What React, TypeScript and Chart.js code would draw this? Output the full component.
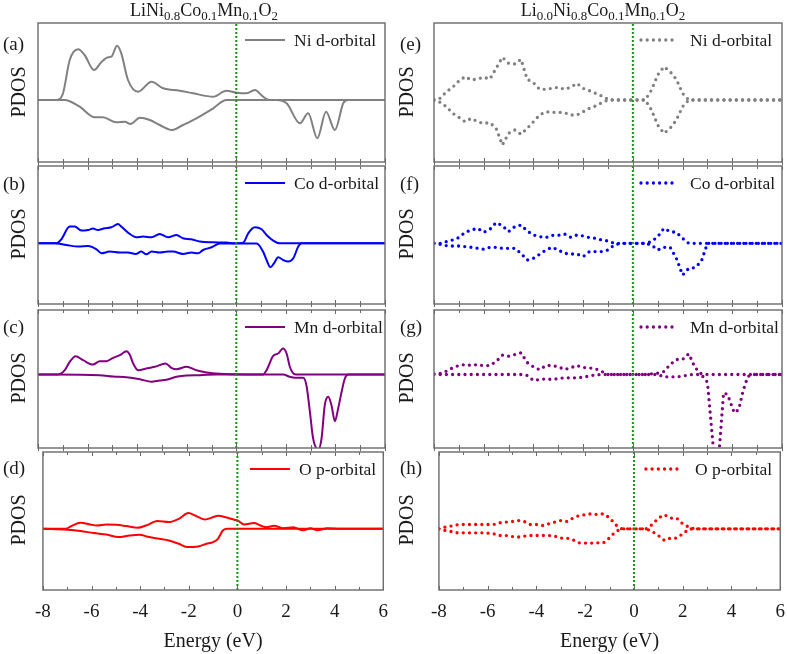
import React, { useEffect, useRef } from "react";
import { Chart, registerables } from "chart.js";

Chart.register(...registerables);

// ---------------- data ----------------
const ENERGY_MIN = -8;
const ENERGY_MAX = 6;
const ENERGY_LABEL_STEP = 2;
const ENERGY_MINOR_TICKS = [-8, -7, -6, -5, -4, -3, -2, -1, 0, 1, 2, 3, 4, 5, 6];

type Pair = [number, number];

// LiNi0.8Co0.1Mn0.1O2 (left column): [energy eV, PDOS]
const NI_UP_L: Pair[] = [[-8, 0], [-7.5, 0], [-7.19, 0.03], [-6.99, 0.67], [-6.72, 4.0], [-6.38, 5.07], [-6.12, 4.5], [-5.74, 3.0], [-5.44, 3.8], [-5.17, 4.27], [-5.04, 4.33], [-4.81, 5.43], [-4.64, 4.67], [-4.37, 2.0], [-3.96, 0.83], [-3.42, 1.83], [-2.95, 1.17], [-2.28, 0.93], [-1.74, 0.67], [-0.93, 0.33], [-0.4, 0.93], [0.01, 0.73], [0.41, 0.67], [0.75, 1.0], [1.08, 0.33], [1.35, 0], [2, 0], [4, 0], [6, 0]];
const NI_DN_L: Pair[] = [[-8, 0], [-6.92, 0], [-6.32, -0.67], [-5.71, -1.73], [-5.38, -1.73], [-4.84, -2.23], [-4.5, -2.17], [-4.27, -2.4], [-3.89, -1.77], [-3.49, -2.0], [-3.09, -2.5], [-2.59, -3.0], [-2.15, -2.5], [-1.61, -1.83], [-0.93, -0.83], [-0.4, 0], [1.62, 0], [2.03, -0.33], [2.57, -2.33], [2.9, -1.33], [3.27, -3.83], [3.62, -1.17], [3.98, -3.0], [4.32, -0.3], [4.52, 0], [6, 0]];
const CO_UP_L: Pair[] = [[-8, 0], [-7.26, 0], [-7.06, 0.4], [-6.72, 1.67], [-6.52, 1.67], [-6.25, 1.27], [-5.98, 1.33], [-5.78, 1.47], [-5.58, 1.33], [-5.31, 1.5], [-5.04, 1.6], [-4.77, 1.93], [-4.64, 1.67], [-4.37, 1.07], [-4.03, 0.6], [-3.76, 0.67], [-3.42, 0.6], [-3.09, 0.93], [-2.75, 0.6], [-2.41, 0.83], [-2.15, 0.5], [-1.81, 0.4], [-1.47, 0.17], [-0.93, 0.1], [-0.4, 0.07], [-0.06, 0], [0.28, 0.07], [0.48, 1.0], [0.75, 1.6], [1.02, 1.4], [1.22, 0.83], [1.49, 0.27], [1.76, 0], [6, 0]];
const CO_DN_L: Pair[] = [[-8, 0], [-7.33, 0], [-6.86, -0.17], [-6.38, -0.33], [-5.98, -0.27], [-5.64, -0.6], [-5.44, -1.0], [-5.11, -0.83], [-4.7, -0.93], [-4.37, -0.93], [-4.06, -1.07], [-3.83, -0.83], [-3.63, -1.1], [-3.42, -0.83], [-3.09, -0.93], [-2.75, -0.83], [-2.55, -0.83], [-2.15, -1.07], [-1.81, -0.93], [-1.54, -1.0], [-1.34, -0.67], [-1.0, -0.4], [-0.66, -0.03], [0.82, -0.03], [1.08, -0.83], [1.22, -1.67], [1.38, -2.4], [1.52, -2.0], [1.69, -1.4], [1.89, -1.67], [2.09, -1.83], [2.3, -1.5], [2.5, -0.33], [2.63, 0], [6, 0]];
const MN_UP_L: Pair[] = [[-8, 0], [-7.19, 0], [-6.92, 0.43], [-6.72, 1.27], [-6.48, 1.83], [-6.18, 1.43], [-5.78, 1.0], [-5.51, 1.33], [-5.24, 1.33], [-4.97, 1.67], [-4.7, 1.93], [-4.43, 2.33], [-4.3, 2.0], [-4.16, 1.1], [-3.96, 0.43], [-3.63, 0.6], [-3.29, 0.77], [-2.85, 1.1], [-2.62, 0.67], [-2.41, 0.53], [-2.01, 0.77], [-1.61, 0.43], [-1.2, 0.2], [-0.66, 0.07], [-0.13, 0.03], [1.08, 0], [1.22, 0.43], [1.49, 1.87], [1.69, 2.1], [1.89, 2.6], [2.03, 2.1], [2.16, 0.77], [2.3, 0.1], [2.43, 0], [6, 0]];
const MN_DN_L: Pair[] = [[-8, 0], [-5.51, -0.07], [-4.97, -0.2], [-4.43, -0.27], [-3.89, -0.47], [-3.42, -0.73], [-3.09, -0.6], [-2.82, -0.53], [-2.41, -0.23], [-2.01, -0.1], [-1.47, -0.07], [-0.8, 0], [1.89, 0], [2.16, -0.23], [2.36, -0.33], [2.7, -0.33], [2.83, -1.07], [2.97, -3.73], [3.1, -6.4], [3.31, -7.5], [3.44, -6.4], [3.57, -3.07], [3.71, -2.23], [3.84, -3.07], [3.98, -4.67], [4.11, -3.4], [4.25, -1.73], [4.38, -0.4], [4.52, 0], [6, 0]];
const O_UP_L: Pair[] = [[-8, 0], [-7.06, 0], [-6.86, 0.23], [-6.45, 0.6], [-6.05, 0.43], [-5.78, 0.33], [-5.38, 0.43], [-4.97, 0.4], [-4.57, 0.27], [-4.1, 0.1], [-3.76, 0.33], [-3.29, 0.77], [-2.82, 0.67], [-2.41, 1.0], [-2.01, 1.57], [-1.74, 1.33], [-1.34, 0.93], [-0.93, 1.23], [-0.8, 1.3], [-0.4, 1.1], [-0.13, 0.9], [0.01, 0.83], [0.28, 0.43], [0.68, 0.57], [0.95, 0.33], [1.2, 0.15], [1.5, 0.3], [1.9, 0.05], [2.3, 0.15], [2.7, -0.15], [3.0, 0.05], [3.3, -0.15], [3.7, 0.05], [4.2, 0], [6, 0]];
const O_DN_L: Pair[] = [[-8, 0], [-6.99, -0.1], [-6.45, -0.23], [-5.91, -0.43], [-5.38, -0.57], [-4.9, -0.83], [-4.43, -0.67], [-4.03, -0.6], [-3.63, -0.83], [-3.22, -1.0], [-2.82, -1.17], [-2.41, -1.5], [-2.08, -1.83], [-1.61, -1.77], [-1.27, -1.5], [-1.0, -1.33], [-0.8, -1.0], [-0.6, -0.17], [-0.4, 0], [6, 0]];

// Li0.0Ni0.8Co0.1Mn0.1O2 (right column): PDOS on a 0.25 eV energy grid
const GRID_E = [-8, -7.75, -7.5, -7.25, -7, -6.75, -6.5, -6.25, -6, -5.75, -5.5, -5.25, -5, -4.75, -4.5, -4.25, -4, -3.75, -3.5, -3.25, -3, -2.75, -2.5, -2.25, -2, -1.75, -1.5, -1.25, -1, -0.75, -0.5, -0.25, 0, 0.25, 0.5, 0.75, 1, 1.25, 1.5, 1.75, 2, 2.25, 2.5, 2.75, 3, 3.25, 3.5, 3.75, 4, 4.25, 4.5, 4.75, 5, 5.25, 5.5, 5.75, 6];
const NI_UP_R = [0, 0.17, 0.83, 1.27, 1.9, 2.33, 2.0, 2.1, 2.27, 2.1, 3.17, 4.27, 3.67, 3.6, 4.07, 2.07, 1.73, 1.07, 1.07, 1.17, 1.27, 1.07, 1.27, 1.67, 1.17, 0.93, 0.67, 0.4, 0.07, 0, 0, 0, 0, 0, 0, 1.0, 2.5, 3.33, 2.83, 2.07, 0.67, 0, 0, 0, 0, 0, 0, 0, 0, 0, 0, 0, 0, 0, 0, 0, 0];
const NI_DN_R = [0, -0.23, -0.67, -1.33, -1.73, -2.17, -1.83, -2.17, -2.33, -2.27, -2.83, -4.5, -3.33, -3.0, -3.43, -2.83, -2.17, -1.5, -1.17, -1.23, -1.23, -1.27, -1.5, -1.5, -1.17, -0.83, -0.6, -0.27, 0, 0, 0, 0, 0, 0, 0, -1.0, -2.5, -3.33, -2.83, -2.0, -0.67, 0, 0, 0, 0, 0, 0, 0, 0, 0, 0, 0, 0, 0, 0, 0, 0];
const CO_UP_R = [0, 0, 0.17, 0.33, 0.57, 1.1, 1.33, 1.5, 1.1, 1.4, 2.07, 1.77, 1.17, 1.67, 1.83, 1.23, 0.83, 0.67, 0.57, 0.8, 0.8, 0.93, 0.6, 0.83, 0.73, 0.57, 0.5, 0.33, 0.23, 0, 0, 0, 0, 0, 0, 0.17, 0.67, 1.5, 1.17, 1.1, 0.5, 0, 0, 0, 0, 0, 0, 0, 0, 0, 0, 0, 0, 0, 0, 0, 0];
const CO_DN_R = [0, -0.1, -0.23, -0.27, -0.27, -0.33, -0.4, -0.5, -0.6, -0.4, -0.4, -0.5, -0.5, -0.5, -1.0, -1.67, -1.5, -1.1, -0.67, -0.4, -0.67, -1.0, -1.07, -1.07, -1.33, -0.83, -0.83, -0.83, -0.67, -0.17, 0, 0, 0, 0, 0, -0.17, -0.67, -0.4, -0.4, -1.5, -3.17, -2.5, -2.43, -1.83, 0, 0, 0, 0, 0, 0, 0, 0, 0, 0, 0, 0, 0];
const MN_UP_R = [0.07, 0.1, 0.33, 0.67, 0.9, 1.0, 0.9, 1.0, 0.87, 0.9, 1.3, 1.93, 1.83, 2.0, 2.17, 1.2, 0.77, 0.47, 0.9, 0.9, 0.77, 0.5, 0.67, 0.9, 0.7, 0.67, 0.57, 0.3, 0, 0, 0, 0, 0, 0, 0, 0.07, 0.13, 0.3, 1.0, 1.5, 1.5, 2.07, 0.7, 0.07, 0, 0, 0, 0, 0, 0, 0, 0, 0, 0, 0, 0, 0];
const MN_DN_R_HEAD = [0, 0, 0, 0, 0, 0, 0, 0, 0, 0, 0, 0, 0, 0, 0, -0.1, -0.6, -0.5, -0.43, -0.5, -0.4, -0.33, -0.33, -0.33, -0.27, -0.15, -0.03, 0, 0, 0, 0, 0, 0, 0, 0, 0, 0, -0.23, -0.23, -0.23, -0.17, -0.03, 0, 0];
const MN_DN_R_TAIL: Pair[] = [[3.0, -0.77], [3.37, -11.0], [3.65, -1.83], [3.81, -2.0], [4.08, -3.83], [4.26, -3.5], [4.43, -1.67], [4.62, -0.23], [4.75, 0], [5, 0], [5.5, 0], [6, 0]];
const O_UP_R = [0, 0.17, 0.27, 0.4, 0.43, 0.43, 0.43, 0.43, 0.43, 0.43, 0.6, 0.67, 0.73, 0.83, 0.73, 0.43, 0.43, 0.33, 0.5, 0.67, 0.83, 0.73, 1.07, 1.33, 1.4, 1.5, 1.43, 1.5, 1.1, 0.4, 0, 0, 0, 0, 0, 0.43, 1.07, 1.4, 1.07, 1.07, 0.5, 0.17, 0, 0, 0, 0, 0, 0, 0, 0, 0, 0, 0, 0, 0, 0, 0];
const O_DN_R = [0, -0.17, -0.27, -0.4, -0.4, -0.4, -0.4, -0.4, -0.43, -0.5, -0.67, -0.67, -0.77, -0.83, -0.73, -0.67, -0.67, -0.67, -0.67, -0.73, -0.93, -0.93, -1.1, -1.4, -1.43, -1.43, -1.4, -1.4, -0.9, -0.27, 0, 0, 0, 0, 0, -0.27, -0.67, -1.17, -0.93, -0.93, -0.5, -0.03, 0, 0, 0, 0, 0, 0, 0, 0, 0, 0, 0, 0, 0, 0, 0];

// PDOS axis range for each row (a/e, b/f, c/g, d/h)
const Y_RANGES: Pair[] = [[-6.2, 7.7], [-6.07, 7.73], [-7.35, 6.45], [-6.12, 7.68]];

const ORBITAL_LABELS = ["Ni d-orbital", "Co d-orbital", "Mn d-orbital", "O p-orbital"];
const PANEL_TAGS = [["(a)", "(b)", "(c)", "(d)"], ["(e)", "(f)", "(g)", "(h)"]];

// ---------------- style / layout ----------------
const SERIF = '"Liberation Serif", "Times New Roman", Times, serif';
const TEXT = "#1a1a1a";
const FRAME = "#6a6a6a";
const ZERO_COLOR = "#0c990c";
const ORBITAL_COLORS = ["#808080", "#0000ff", "#800080", "#ff0000"];
const LINE_W = 2;
const DOT_W = 3.3;
const DOT_DASH = [0, 6.2];

const COL_X: Pair[] = [[38, 385], [434, 782]];
const ROW_Y: Pair[] = [[23, 162], [166, 304], [310, 448], [452, 590]];
const PAGE_W = 787;
const PAGE_H = 654;
const M_X = 14;
const M_Y = 6;

const zip = (xs: number[], ys: number[]) => ys.map((y, i) => ({ x: xs[i], y }));
const fromPairs = (ps: Pair[]) => ps.map(([x, y]) => ({ x, y }));

type PanelSpec = {
  col: number;
  row: number;
  up: { x: number; y: number }[];
  dn: { x: number; y: number }[];
};

const LEFT_SERIES: Pair[][][] = [[NI_UP_L, NI_DN_L], [CO_UP_L, CO_DN_L], [MN_UP_L, MN_DN_L], [O_UP_L, O_DN_L]];
const RIGHT_SERIES = [
  [zip(GRID_E, NI_UP_R), zip(GRID_E, NI_DN_R)],
  [zip(GRID_E, CO_UP_R), zip(GRID_E, CO_DN_R)],
  [zip(GRID_E, MN_UP_R), [...zip(GRID_E, MN_DN_R_HEAD), ...fromPairs(MN_DN_R_TAIL)]],
  [zip(GRID_E, O_UP_R), zip(GRID_E, O_DN_R)],
];

const PANELS: PanelSpec[] = [
  ...LEFT_SERIES.map((s, row) => ({ col: 0, row, up: fromPairs(s[0]), dn: fromPairs(s[1]) })),
  ...RIGHT_SERIES.map((s, row) => ({ col: 1, row, up: s[0], dn: s[1] })),
];

const decorPlugin = {
  id: "panelDecor",
  afterDatasetsDraw(chart: any, _args: any, opts: any) {
    const { ctx, chartArea: a } = chart;
    const xs = chart.scales.x;
    ctx.save();
    ctx.setLineDash([]);
    // frame
    ctx.strokeStyle = FRAME;
    ctx.lineWidth = 1.4;
    ctx.strokeRect(a.left, a.top, a.right - a.left, a.bottom - a.top);
    // inward ticks
    ctx.lineWidth = 1;
    ctx.beginPath();
    ENERGY_MINOR_TICKS.forEach((e) => {
      const px = Math.round(xs.getPixelForValue(e)) + 0.5;
      const len = e % 2 === 0 ? 4 : 3;
      ctx.moveTo(px, a.bottom);
      ctx.lineTo(px, a.bottom - len);
      if (opts.outBottom) {
        ctx.moveTo(px, a.bottom);
        ctx.lineTo(px, a.bottom + opts.outBottom);
      }
      if (opts.topTicks) {
        ctx.moveTo(px, a.top);
        ctx.lineTo(px, a.top + len);
      }
    });
    ctx.stroke();
    // legend
    const ly = a.top + 17;
    ctx.strokeStyle = opts.color;
    ctx.lineWidth = opts.dotted ? DOT_W : LINE_W;
    ctx.lineCap = opts.dotted ? "round" : "butt";
    ctx.setLineDash(opts.dotted ? DOT_DASH : []);
    ctx.beginPath();
    ctx.moveTo(a.left + 207, ly);
    ctx.lineTo(a.left + (opts.dotted ? 242 : 247), ly);
    ctx.stroke();
    ctx.setLineDash([]);
    ctx.fillStyle = TEXT;
    ctx.font = `17.5px ${SERIF}`;
    ctx.textAlign = "left";
    ctx.textBaseline = "middle";
    ctx.fillText(opts.label, a.left + 256, ly + 1);
    ctx.restore();
  },
};

function Panel({ p }: { p: PanelSpec }) {
  const ref = useRef<HTMLCanvasElement>(null);
  const [L, R] = COL_X[p.col];
  const [T, B] = ROW_Y[p.row];
  const isBottom = p.row === ROW_Y.length - 1;
  const left = L - M_X;
  const top = T - M_Y;
  const width = R - L + 2 * M_X;
  const height = isBottom ? PAGE_H - top : B - T + 2 * M_Y;

  useEffect(() => {
    if (!ref.current) return;
    const [ymin, ymax] = Y_RANGES[p.row];
    const color = ORBITAL_COLORS[p.row];
    const dotted = p.col === 1;
    const seriesStyle = dotted
      ? { borderWidth: DOT_W, borderDash: DOT_DASH, borderCapStyle: "round", tension: 0 }
      : { borderWidth: LINE_W, cubicInterpolationMode: "monotone" };
    const mk = (data: any[], label: string) => ({
      label,
      data,
      borderColor: color,
      pointRadius: 0,
      fill: false,
      clip: 0,
      ...seriesStyle,
    });
    const xScale: any = {
      type: "linear",
      min: ENERGY_MIN,
      max: ENERGY_MAX,
      display: isBottom,
      grid: { display: false, drawTicks: false },
      border: { display: false },
      ticks: {
        stepSize: ENERGY_LABEL_STEP,
        autoSkip: false,
        maxRotation: 0,
        padding: 11,
        color: TEXT,
        font: { family: SERIF, size: 19 },
      },
      title: {
        display: isBottom,
        text: "Energy (eV)",
        color: TEXT,
        font: { family: SERIF, size: 20 },
        padding: { top: 0, bottom: 0 },
      },
    };
    if (isBottom) {
      xScale.afterFit = (s: any) => {
        s.height = PAGE_H - B;
      };
    }
    const chart = new Chart(ref.current, {
      type: "line",
      data: {
        datasets: [
          {
            label: "E_F",
            data: [{ x: 0, y: ymin }, { x: 0, y: ymax }],
            borderColor: ZERO_COLOR,
            borderWidth: 2,
            borderDash: [2, 2],
            pointRadius: 0,
            tension: 0,
            clip: 0,
          },
          mk(p.up, ORBITAL_LABELS[p.row] + " up") as any,
          mk(p.dn, ORBITAL_LABELS[p.row] + " down") as any,
        ],
      },
      options: {
        animation: false,
        responsive: false,
        events: [],
        layout: { padding: { left: M_X, right: M_X, top: M_Y, bottom: isBottom ? 0 : M_Y } },
        plugins: {
          legend: { display: false },
          tooltip: { enabled: false },
          panelDecor: {
            color,
            dotted,
            label: ORBITAL_LABELS[p.row],
            topTicks: p.row > 0,
            outBottom: isBottom ? 0 : 3,
          },
        } as any,
        scales: {
          x: xScale,
          y: { display: false, min: ymin, max: ymax },
        },
      },
      plugins: [decorPlugin as any],
    });
    return () => chart.destroy();
  }, []);

  return (
    <canvas
      ref={ref}
      width={width}
      height={height}
      style={{ position: "absolute", left, top, width, height }}
    />
  );
}

const subStyle: React.CSSProperties = { fontSize: "0.72em", verticalAlign: "-0.28em", lineHeight: 0 };

export default function App() {
  const labelY = [43.5, 184, 326.5, 467.5];
  const labelX = [3, 400];
  const pdosX = [18.3, 406];
  return (
    <div
      style={{
        position: "fixed",
        left: 0,
        top: 0,
        width: PAGE_W,
        height: PAGE_H,
        overflow: "hidden",
        background: "#fff",
        fontFamily: SERIF,
        color: TEXT,
      }}
    >
      {PANELS.map((p, i) => (
        <Panel key={i} p={p} />
      ))}

      <div style={{ position: "absolute", left: 0, width: 408, top: 0, textAlign: "center", fontSize: 18, lineHeight: "20px", whiteSpace: "nowrap" }}>
        LiNi<sub style={subStyle}>0.8</sub>Co<sub style={subStyle}>0.1</sub>Mn<sub style={subStyle}>0.1</sub>O<sub style={subStyle}>2</sub>
      </div>
      <div style={{ position: "absolute", left: 420, width: 366, top: 0, textAlign: "center", fontSize: 18, lineHeight: "20px", whiteSpace: "nowrap" }}>
        Li<sub style={subStyle}>0.0</sub>Ni<sub style={subStyle}>0.8</sub>Co<sub style={subStyle}>0.1</sub>Mn<sub style={subStyle}>0.1</sub>O<sub style={subStyle}>2</sub>
      </div>

      {PANEL_TAGS.map((tags, col) =>
        tags.map((t, row) => (
          <div
            key={t}
            style={{ position: "absolute", left: labelX[col], top: labelY[row] - 10, fontSize: 19, lineHeight: "20px", whiteSpace: "nowrap" }}
          >
            {t}
          </div>
        ))
      )}

      {COL_X.map((_, col) =>
        ROW_Y.map(([T, B], row) => (
          <div
            key={`pdos-${col}-${row}`}
            style={{
              position: "absolute",
              left: pdosX[col],
              top: (T + B) / 2 - 1,
              transform: "translate(-50%, -50%) rotate(-90deg)",
              fontSize: 20,
              lineHeight: "20px",
              whiteSpace: "nowrap",
            }}
          >
            PDOS
          </div>
        ))
      )}
    </div>
  );
}
